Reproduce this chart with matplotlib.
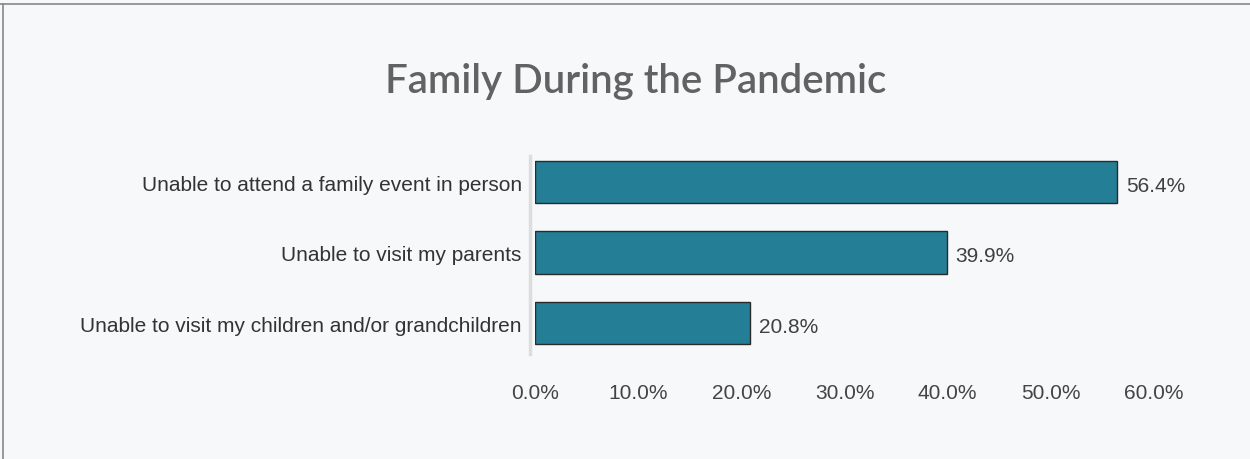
import matplotlib
matplotlib.use("Agg")
import matplotlib.pyplot as plt
from matplotlib.lines import Line2D

plt.rcParams["font.family"] = ["Liberation Sans", "DejaVu Sans"]

categories = ["Unable to attend a family event in person",
              "Unable to visit my parents",
              "Unable to visit my children and/or grandchildren"]
values = [56.4, 39.9, 20.8]
ticks = [0, 10, 20, 30, 40, 50, 60]
tick_labels = ["0.0%", "10.0%", "20.0%", "30.0%", "40.0%", "50.0%", "60.0%"]
title = "Family During the Pandemic"

bg = "#F7F8FA"
bar_color = "#237E96"

fig = plt.figure(figsize=(12.5, 4.6), dpi=100, facecolor=bg)
ax = fig.add_axes([0.428, 0.219, 0.4952, 0.4598], facecolor=bg)

y = list(range(len(categories)))
ax.barh(y, values, height=0.6, color=bar_color, edgecolor="#2a2a2a", linewidth=1.0)
ax.set_ylim(2.5, -0.5)
ax.set_xlim(0, 60)

for yi, v in zip(y, values):
    ax.annotate(f"{v:.1f}%", xy=(v, yi), xytext=(6.5, -2.5), textcoords="offset points",
                va="center", ha="left", fontsize=15, color="#404040")

ax.set_yticks(y)
ax.set_yticklabels(categories, fontsize=15, color="#333333")
ax.tick_params(axis="y", length=0, pad=9.5)
ax.set_xticks(ticks)
ax.set_xticklabels(tick_labels, fontsize=15, color="#444444")
ax.tick_params(axis="x", length=0, pad=17.5)
for s in ax.spines.values():
    s.set_visible(False)

# light vertical axis line
fig.add_artist(Line2D([530/1250, 530/1250], [1-157/460, 1-355/460],
                      transform=fig.transFigure, color="#DDDDDD", linewidth=2.5))
# figure border (top & left)
fig.add_artist(Line2D([0, 1], [1-5/460, 1-5/460], transform=fig.transFigure,
                      color="#888888", linewidth=1.2))
fig.add_artist(Line2D([3/1250, 3/1250], [0, 1-5/460], transform=fig.transFigure,
                      color="#888888", linewidth=1.2))

fig.text(636/1250, 1-82/460, title, ha="center", va="center", fontsize=29,
         color="#626262", family="Lato", fontweight="semibold")

fig.savefig("out.png", dpi=100, facecolor=bg)
